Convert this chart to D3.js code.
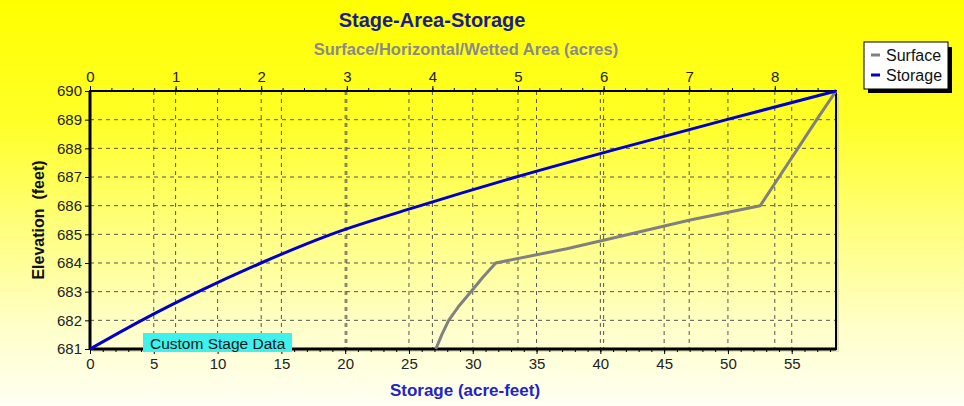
<!DOCTYPE html>
<html>
<head>
<meta charset="utf-8">
<script src="https://cdn.jsdelivr.net/npm/d3@7"></script>
<style>
  html, body { margin: 0; padding: 0; background: #fff; }
  svg { display: block; font-family: "Liberation Sans", Arial, sans-serif; }
  text { white-space: pre; }
</style>
</head>
<body>
<svg id="chart" width="964" height="406"></svg>
<script>
// ---- Data ----
const storageElev = [681, 682, 683, 684, 685, 686, 687, 688, 689, 690];
const storageVals = [0, 4.05, 8.5, 13.4, 18.9, 25.9, 33.4, 41.5, 49.9, 58.47];

const surfaceElev = [681, 681.5, 682, 682.5, 683, 683.5, 684, 684.5, 685, 685.5, 686, 687, 688, 689, 690];
const surfaceVals = [4.04, 4.11, 4.19, 4.31, 4.45, 4.59, 4.74, 5.57, 6.30, 7.01, 7.83, 8.05, 8.27, 8.49, 8.715];

const elevTicks = [681, 682, 683, 684, 685, 686, 687, 688, 689, 690];
const storageTicks = [0, 5, 10, 15, 20, 25, 30, 35, 40, 45, 50, 55];
const surfaceTicks = [0, 1, 2, 3, 4, 5, 6, 7, 8];

const seriesNames = ["Surface", "Storage"];
const seriesColors = ["#808080", "#0000c8"];

// ---- Layout ----
const W = 964, H = 406;
const m = { left: 90, right: 128, top: 91, bottom: 57 };
const pw = W - m.left - m.right, ph = H - m.top - m.bottom;

const svg = d3.select("#chart");
const defs = svg.append("defs");
const grad = defs.append("linearGradient").attr("id", "bg")
  .attr("gradientUnits", "userSpaceOnUse")
  .attr("x1", 0).attr("y1", 0).attr("x2", 0).attr("y2", H);
[[0, "#ffff00"], [0.3, "#ffff28"], [0.55, "#ffff7a"], [0.8, "#ffffc8"], [1, "#fffff4"]]
  .forEach(([o, c]) => grad.append("stop").attr("offset", o).attr("stop-color", c));

svg.append("rect").attr("width", W).attr("height", H).attr("fill", "url(#bg)");

const x = d3.scaleLinear().domain([0, 58.47]).range([m.left, m.left + pw]);
const x2 = d3.scaleLinear().domain([0, 8.715]).range([m.left, m.left + pw]);
const y = d3.scaleLinear().domain([681, 690]).range([m.top + ph, m.top]);

// plot shadow
svg.append("rect").attr("x", m.left + 3).attr("y", m.top + 3).attr("width", pw).attr("height", ph)
  .attr("fill", "#c8c8a0").attr("opacity", 0.5);
svg.append("rect").attr("x", m.left).attr("y", m.top).attr("width", pw).attr("height", ph)
  .attr("fill", "url(#bg)");

// grid
const grid = svg.append("g").attr("stroke", "#555").attr("stroke-width", 1).attr("stroke-dasharray", "4,4").attr("fill", "none");
elevTicks.filter(d => d > 681).forEach(d => {
  grid.append("line").attr("x1", m.left).attr("x2", m.left + pw).attr("y1", y(d)).attr("y2", y(d));
});
storageTicks.filter(d => d > 0).forEach(d => {
  grid.append("line").attr("x1", x(d)).attr("x2", x(d)).attr("y1", m.top).attr("y2", m.top + ph);
});
surfaceTicks.filter(d => d > 0).forEach(d => {
  grid.append("line").attr("x1", x2(d)).attr("x2", x2(d)).attr("y1", m.top).attr("y2", m.top + ph);
});

// axes
const tickFont = g => g.selectAll("text").attr("font-size", 15).attr("fill", "#222")
  .attr("font-family", "'Liberation Sans', Arial, sans-serif");

const yAxis = svg.append("g").attr("transform", `translate(${m.left},0)`)
  .call(d3.axisLeft(y).tickValues(elevTicks).tickFormat(d3.format("d")).tickSize(5).tickPadding(3));
yAxis.call(tickFont);
yAxis.select(".domain").remove();

const xMinor = d3.range(0, 59, 1);
svg.append("g").attr("transform", `translate(0,${m.top + ph})`)
  .call(d3.axisBottom(x).tickValues(xMinor).tickFormat("").tickSize(3))
  .call(g => g.select(".domain").remove());
const xAxis = svg.append("g").attr("transform", `translate(0,${m.top + ph})`)
  .call(d3.axisBottom(x).tickValues(storageTicks).tickFormat(d3.format("d")).tickSize(5).tickPadding(4));
xAxis.call(tickFont);
xAxis.select(".domain").remove();

const x2Minor = d3.range(0, 8.75, 0.25);
svg.append("g").attr("transform", `translate(0,${m.top})`)
  .call(d3.axisTop(x2).tickValues(x2Minor).tickFormat("").tickSize(3))
  .call(g => g.select(".domain").remove());
const x2Axis = svg.append("g").attr("transform", `translate(0,${m.top})`)
  .call(d3.axisTop(x2).tickValues(surfaceTicks).tickFormat(d3.format("d")).tickSize(5).tickPadding(4));
x2Axis.call(tickFont);
x2Axis.select(".domain").remove();

// frame
svg.append("rect").attr("x", m.left).attr("y", m.top).attr("width", pw).attr("height", ph)
  .attr("fill", "none").attr("stroke", "#000").attr("stroke-width", 2);
svg.append("line").attr("x1", m.left).attr("x2", m.left).attr("y1", m.top).attr("y2", m.top + ph)
  .attr("stroke", "#000").attr("stroke-width", 3);
svg.append("line").attr("x1", m.left).attr("x2", m.left + pw).attr("y1", m.top + ph).attr("y2", m.top + ph)
  .attr("stroke", "#000").attr("stroke-width", 3);

// series
const surfLine = d3.line().x((d, i) => x2(surfaceVals[i])).y(d => y(d));
svg.append("path").datum(surfaceElev).attr("d", surfLine)
  .attr("fill", "none").attr("stroke", seriesColors[0]).attr("stroke-width", 3).attr("stroke-linejoin", "round");

const storLine = d3.line().curve(d3.curveMonotoneX).x((d, i) => x(storageVals[i])).y(d => y(d));
svg.append("path").datum(storageElev).attr("d", storLine)
  .attr("fill", "none").attr("stroke", seriesColors[1]).attr("stroke-width", 3).attr("stroke-linejoin", "round");

// Custom stage data label
svg.append("rect").attr("x", 143).attr("y", 333).attr("width", 149).attr("height", 19).attr("fill", "#3ff0ec");
svg.append("text").attr("x", 150).attr("y", 348.5).attr("font-size", 15.5).attr("fill", "#1a1a1a").text("Custom Stage Data");

// titles
svg.append("text").attr("x", 432).attr("y", 27).attr("text-anchor", "middle")
  .attr("font-size", 20).attr("font-weight", "bold").attr("fill", "#1c1c8c").text("Stage-Area-Storage");
svg.append("text").attr("x", 466).attr("y", 55).attr("text-anchor", "middle")
  .attr("font-size", 16.5).attr("font-weight", "bold").attr("fill", "#8a8a8a").text("Surface/Horizontal/Wetted Area (acres)");
svg.append("text").attr("x", 465).attr("y", 396).attr("text-anchor", "middle")
  .attr("font-size", 17).attr("font-weight", "bold").attr("fill", "#2323c8").text("Storage (acre-feet)");
svg.append("text").attr("transform", "translate(44,220) rotate(-90)").attr("text-anchor", "middle")
  .attr("font-size", 16).attr("font-weight", "bold").attr("fill", "#111")
  .text("Elevation  (feet)");

// legend
const lg = svg.append("g");
lg.append("rect").attr("x", 868).attr("y", 47).attr("width", 84).attr("height", 46).attr("fill", "#000");
lg.append("rect").attr("x", 864).attr("y", 42).attr("width", 84).attr("height", 47).attr("fill", "#fff")
  .attr("stroke", "#000").attr("stroke-width", 1);
seriesNames.forEach((n, i) => {
  const yy = 55 + i * 20;
  lg.append("line").attr("x1", 871).attr("x2", 880).attr("y1", yy).attr("y2", yy)
    .attr("stroke", seriesColors[i]).attr("stroke-width", 3);
  lg.append("text").attr("x", 886).attr("y", yy + 5.5).attr("font-size", 16).attr("fill", "#111").text(n);
});
</script>
</body>
</html>
